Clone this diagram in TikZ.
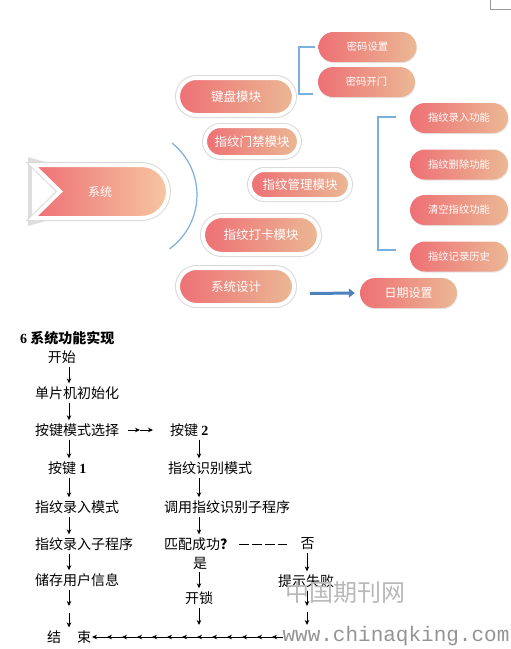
\documentclass[tikz,border=0pt]{standalone}
\usepackage{fontspec}
\usepackage{tikz}
\usetikzlibrary{arrows.meta,positioning,calc,shadows}
\newfontfamily\cjk{Noto Sans CJK SC}
\newfontfamily\digitfont{Liberation Serif}
\newfontfamily\wmfont{Liberation Mono}
\definecolor{pillleft}{HTML}{EE7075}
\definecolor{pillright}{HTML}{EBB894}
\definecolor{bannerright}{HTML}{F6C6A1}
\definecolor{bracketblue}{HTML}{7BAFDE}
\definecolor{arrowblue}{HTML}{4F81BD}
\tikzset{
  pillh/.style={minimum height=#1,rounded corners=#1/2},
  modpill/.style={rectangle,draw=white,line width=4pt,left color=pillleft,right color=pillright,
    text=white,inner sep=0pt,font=\cjk\fontsize{12.5}{14}\selectfont,
    preaction={draw=black!15,line width=6pt}},
  funpill/.style={rectangle,left color=pillleft,right color=pillright,text=white,inner sep=0pt,
    minimum width=98pt,pillh=30pt,font=\cjk\fontsize{10.3}{12}\selectfont,
    drop shadow={shadow xshift=0.5pt,shadow yshift=-1.2pt,opacity=.2}},
  bracketline/.style={draw=bracketblue,line width=1.1pt},
  flowtext/.style={font=\cjk\fontsize{14}{16}\selectfont,inner sep=3pt},
  flowarrow/.style={-{Stealth[length=5pt,width=4.5pt]},line width=0.8pt},
  flowline/.style={line width=0.8pt}
}
\begin{document}
\begin{tikzpicture}[x=1pt,y=-1pt]
  \useasboundingbox (0,0) rectangle (511,649);
  \draw[black!40,line width=0.6pt] (490,0) -- (490,9) -- (511,9);
  % banner
  \fill[black!13] (28,157) -- (49,163) -- (49,220) -- (28,226) -- cycle;
  \fill[white] (32,165) -- (60,191.5) -- (32,218) -- cycle;
  \path[preaction={draw=black!15,line width=6pt},draw=white,line width=4pt,
    left color=pillleft,right color=bannerright]
    (33,165) -- (141.5,165) arc[start angle=-90,end angle=90,radius=26.5]
    -- (33,218) -- (60,191.5) -- cycle;
  \node[text=white,font=\cjk\fontsize{12}{14}\selectfont] (sys) at (100,191.5) {系统};
  \draw[bracketblue,line width=1.2pt] (130.4,195) ++(-51.3:66.6)
    arc[start angle=-51.3,end angle=54,radius=66.6];
  % modules
  \node[modpill,minimum width=116pt,pillh=37pt] (keypad) at (236,96.5) {键盘模块};
  \node[modpill,minimum width=94pt,pillh=31pt] (doorctl) at (252,141.5) {指纹门禁模块};
  \node[modpill,minimum width=100pt,pillh=29pt] (fpmgmt) at (300,184.5) {指纹管理模块};
  \node[modpill,minimum width=116pt,pillh=38pt] (punch) at (261,235) {指纹打卡模块};
  \node[modpill,minimum width=116pt,pillh=37pt] (sysdes) at (236,286.5) {系统设计};
  \node[funpill] (pwdset) at (367.5,47) {密码设置};
  \node[funpill,minimum width=97pt] (pwdopen) at (366.5,82) {密码开门};
  \node[funpill] (fpenroll) at (459,118) {指纹录入功能};
  \node[funpill] (fpdelete) at (459,164.5) {指纹删除功能};
  \node[funpill] (fpclear) at (459,210) {清空指纹功能};
  \node[funpill] (fplog) at (459,256.5) {指纹记录历史};
  \node[funpill,minimum width=97pt,font=\cjk\fontsize{12}{14}\selectfont] (dateset) at (408.5,293) {日期设置};
  \draw[bracketline] ([xshift=-3pt]pwdset.west) -- (299,47) -- (299,94) -- (313,94);
  \draw[bracketline] (396,117) -- (378,117) -- (378,250) -- (396,250);
  \coordinate (arrstart) at (310,293.5);
  \draw[arrowblue,line width=3pt,-{Triangle[length=6pt,width=9pt]}]
    (arrstart) -- ([xshift=-5pt]dateset.west);
  % flow chart
  \node[flowtext,anchor=west] (title) at (17,338)
    {{\digitfont\bfseries 6} {\bfseries 系统功能实现}};
  \node[flowtext] (fstart) at (62,357) {开始};
  \node[flowtext,anchor=west] (finit) at (32,393) {单片机初始化};
  \node[flowtext,anchor=west] (fmode) at (32,430) {按键模式选择};
  \node[flowtext,anchor=west] (fkey2) at (167,430) {按键 {\digitfont\bfseries 2}};
  \node[flowtext,anchor=west] (fkey1) at (45,468) {按键 {\digitfont\bfseries 1}};
  \node[flowtext,anchor=west] (fident) at (165,468) {指纹识别模式};
  \node[flowtext,anchor=west] (fenroll) at (32,507) {指纹录入模式};
  \node[flowtext,anchor=west] (fcall) at (161,507) {调用指纹识别子程序};
  \node[flowtext,anchor=west] (fsub) at (32,544) {指纹录入子程序};
  \node[flowtext,anchor=west] (fmatch) at (161,544) {匹配成功{\bfseries ？}};
  \node[flowtext] (fno) at (307.5,544) {否};
  \node[flowtext] (fyes) at (200,563) {是};
  \node[flowtext,anchor=west] (fstore) at (32,580) {储存用户信息};
  \node[flowtext,anchor=west] (ffail) at (275,581) {提示失败};
  \node[flowtext] (funlock) at (199,598) {开锁};
  \node[flowtext,anchor=west] (fend) at (44,637) {结\hspace{16pt}束};
  \coordinate (colL) at (69,0);
  \coordinate (colM) at (199,0);
  \coordinate (colR) at (307,0);
  \draw[flowarrow] (fstart.south -| colL) -- (finit.north -| colL);
  \draw[flowarrow] (finit.south -| colL) -- (fmode.north -| colL);
  \draw[flowarrow] (fmode.south -| colL) -- (fkey1.north -| colL);
  \draw[flowarrow] (fkey1.south -| colL) -- (fenroll.north -| colL);
  \draw[flowarrow] (fenroll.south -| colL) -- (fsub.north -| colL);
  \draw[flowarrow] (fsub.south -| colL) -- (fstore.north -| colL);
  \coordinate (lowL1) at (69,606);
  \coordinate (lowL2) at (69,613);
  \draw[flowarrow] (fstore.south -| colL) -- (lowL1);
  \draw[flowarrow] (lowL2) -- (fend.north -| colL);
  \draw[flowarrow] (fkey2.south -| colM) -- (fident.north -| colM);
  \draw[flowarrow] (fident.south -| colM) -- (fcall.north -| colM);
  \draw[flowarrow] (fcall.south -| colM) -- (fmatch.north -| colM);
  \draw[flowarrow] (fyes.south -| colM) -- (funlock.north -| colM);
  \coordinate (lowM) at (199,625);
  \draw[flowarrow] (funlock.south -| colM) -- (lowM);
  \draw[flowarrow] (fno.south -| colR) -- (ffail.north -| colR);
  \coordinate (lowR1) at (307,606);
  \coordinate (lowR2) at (307,612);
  \coordinate (lowR3) at (307,625);
  \draw[flowarrow] (ffail.south -| colR) -- (lowR1);
  \draw[flowarrow] (lowR2) -- (lowR3);
  \coordinate (hmid) at (140,430);
  \draw[flowarrow] ([xshift=6pt]fmode.east) -- (hmid);
  \draw[flowarrow] (hmid) -- ([xshift=-14pt]fkey2.west);
  \draw[line width=0.9pt,dash pattern=on 10pt off 3pt] ([xshift=2pt]fmatch.east) -- ([xshift=-10pt]fno.west);
  \coordinate (chainend) at (283,637);
  \draw[flowline] (fend.east) -- (chainend);
  \foreach \k in {0,...,12}
    \draw[flowarrow] ({92+15*\k+8},637) -- ({92+15*\k},637);
  % watermark
  \node[text=black!28,font=\cjk\fontsize{24}{26}\selectfont] (wmcn) at (345,592) {中国期刊网};
  \node[text=black!42,font=\wmfont\fontsize{21}{23}\selectfont] (wmurl) at (396,636) {www.chinaqking.com};
\end{tikzpicture}
\end{document}
